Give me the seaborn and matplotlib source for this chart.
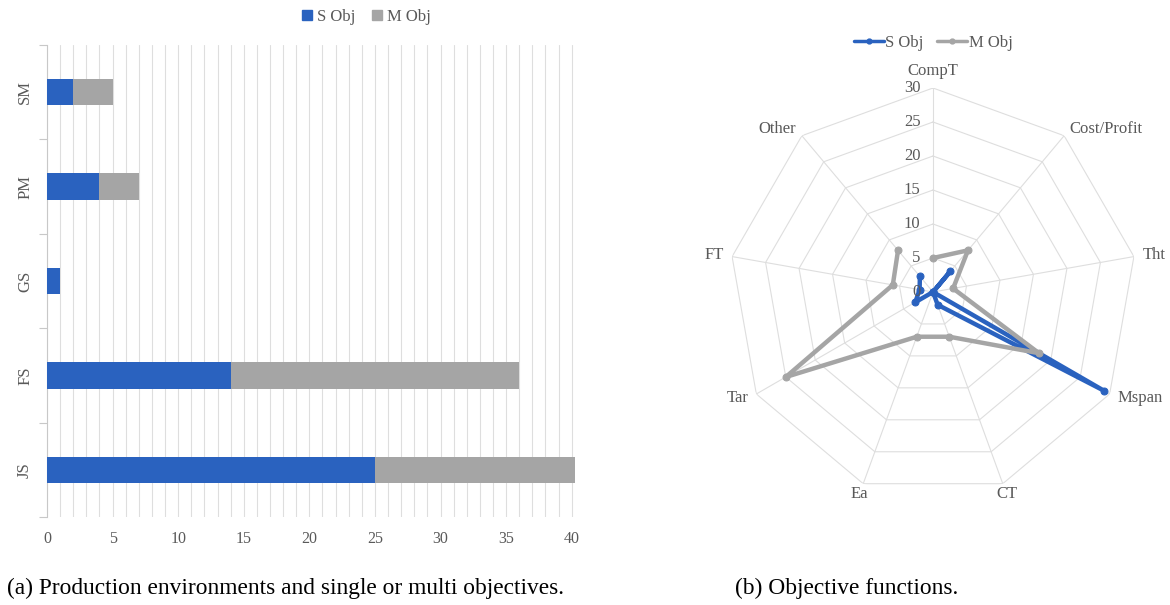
import numpy as np
import pandas as pd
import matplotlib
matplotlib.use("Agg")
import matplotlib.pyplot as plt
import seaborn as sns
from matplotlib.patches import Patch
from matplotlib.lines import Line2D

# ---------------- data ----------------
env_cats = ["SM", "PM", "GS", "FS", "JS"]
env_single = [2, 4, 1, 14, 25]
env_multi = [3, 3, 0, 22, 16]

obj_cats = ["CompT", "Cost/Profit", "Tht", "Mspan", "CT", "Ea", "Tar", "FT", "Other"]
obj_single = [0, 4, 0, 29, 2, 0, 3, 2, 3]
obj_multi = [5, 8, 3, 18, 7, 7, 25, 6, 8]
radar_ticks = [0, 5, 10, 15, 20, 25, 30]

series_names = ["S Obj", "M Obj"]
BLUE = "#2A62BF"
GRAY = "#A5A5A5"
TXT = "#595959"
GRID = "#DEDEDE"

sns.set_theme(style="white")
plt.rcParams["font.family"] = ["Liberation Serif", "DejaVu Serif"]

fig = plt.figure(figsize=(11.7, 6.05), dpi=100)
W, H = 1170, 605
FS_ = 12

# ---------------- left: stacked horizontal bars ----------------
ax = fig.add_axes([47 / W, 1 - 517 / H, 528 / W, 472 / H])
df = pd.DataFrame({"cat": env_cats,
                   "single": env_single,
                   "total": np.array(env_single) + np.array(env_multi)})
sns.barplot(data=df, x="total", y="cat", orient="h", color=GRAY, width=0.28,
            saturation=1, linewidth=0, ax=ax, zorder=3)
sns.barplot(data=df, x="single", y="cat", orient="h", color=BLUE, width=0.28,
            saturation=1, linewidth=0, ax=ax, zorder=4)
ax.set_xlim(0, 40.25)
ax.set_ylim(len(env_cats) - 0.5, -0.5)
ax.set_xlabel("")
ax.set_ylabel("")
ax.set_xticks(np.arange(0, 41, 5))
ax.set_xticks(np.arange(0, 41, 1), minor=True)
ax.grid(True, axis="x", which="both", color=GRID, lw=0.8, zorder=0)
ax.set_axisbelow(True)
ax.tick_params(axis="x", which="both", length=0, pad=10, labelsize=11.5, labelcolor=TXT)
ax.set_yticks(range(len(env_cats)))
ax.set_yticklabels(env_cats, rotation=90, va="center")
ax.set_yticks(np.arange(-0.5, len(env_cats), 1), minor=True)
ax.tick_params(axis="y", which="major", length=0, pad=10, labelsize=FS_, labelcolor=TXT)
ax.tick_params(axis="y", which="minor", length=6, color="#C8C8C8", width=0.8, left=True)
for s in ["top", "right", "bottom"]:
    ax.spines[s].set_visible(False)
ax.spines["left"].set_color("#C8C8C8")
ax.spines["left"].set_linewidth(0.8)

fig.legend(handles=[Patch(color=BLUE, label=series_names[0]),
                    Patch(color=GRAY, label=series_names[1])],
           loc="center", bbox_to_anchor=(366 / W, 1 - 17 / H), ncol=2,
           frameon=False, fontsize=FS_, handlelength=0.6, handleheight=0.6,
           handletextpad=0.3, columnspacing=1.0, labelcolor=TXT)

# ---------------- right: radar ----------------
cx, cy, R = 933, 292, 204
pax = fig.add_axes([(cx - R) / W, 1 - (cy + R) / H, 2 * R / W, 2 * R / H], projection="polar")
pax.set_theta_offset(np.pi / 2)
pax.set_theta_direction(-1)
pax.grid(False)
pax.spines["polar"].set_visible(False)
pax.patch.set_alpha(0)

n = len(obj_cats)
ang = np.arange(n) * 2 * np.pi / n
ang_c = np.append(ang, ang[0])
for r in radar_ticks[1:]:
    pax.plot(ang_c, np.full(n + 1, r), color=GRID, lw=0.8, zorder=1)
for a in ang:
    pax.plot([a, a], [0, 30], color=GRID, lw=0.8, zorder=1)

for vals, col, name in [(obj_single, BLUE, series_names[0]), (obj_multi, GRAY, series_names[1])]:
    d = pd.DataFrame({"theta": ang_c, "r": np.append(vals, vals[0])})
    sns.lineplot(data=d, x="theta", y="r", sort=False, ax=pax, color=col, lw=3.2,
                 marker="o", markersize=5, markeredgecolor=col, zorder=3)
pax.set_xlabel("")
pax.set_ylabel("")
pax.set_xticks([])
pax.set_yticks([])
pax.set_ylim(0, 30)

for r in radar_ticks:
    pax.annotate(str(r), xy=(0, r), xytext=(-9, 0), textcoords="offset points",
                 ha="right", va="center", fontsize=FS_, color=TXT)

for a, lab in zip(ang, obj_cats):
    s, c = np.sin(a), np.cos(a)
    if abs(s) > 0.5:
        pax.text(a, 31.3, lab, ha="left" if s > 0 else "right", va="center",
                 fontsize=FS_, color=TXT)
    else:
        pax.text(a, 32.5 if c > 0 else 31.6, lab, ha="center", va="center",
                 fontsize=FS_, color=TXT)

fig.legend(handles=[Line2D([], [], color=BLUE, lw=2.5, marker="o", markersize=3.5, label=series_names[0]),
                    Line2D([], [], color=GRAY, lw=2.5, marker="o", markersize=3.5, label=series_names[1])],
           loc="center", bbox_to_anchor=(933 / W, 1 - 43 / H), ncol=2,
           frameon=False, fontsize=FS_, handlelength=1.8,
           handletextpad=0.1, columnspacing=0.8, labelcolor=TXT)

# ---------------- captions ----------------
fig.text(7 / W, 1 - 588 / H, "(a) Production environments and single or multi objectives.",
         ha="left", va="center", fontsize=16.8, color="black")
fig.text(735 / W, 1 - 588 / H, "(b) Objective functions.",
         ha="left", va="center", fontsize=16.8, color="black")

fig.savefig("out.png", dpi=100)
